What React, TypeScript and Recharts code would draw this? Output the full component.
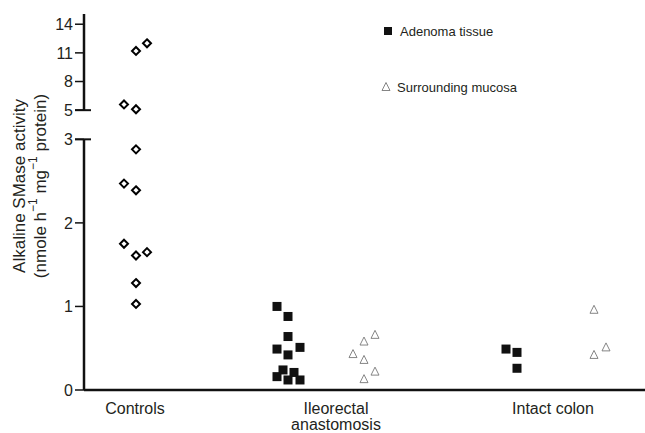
import React from 'react';
import { ScatterChart, Scatter, XAxis, YAxis, ReferenceLine, Legend } from 'recharts';

// ---- categories / ticks ----
const categoryLabels = ['Controls', 'Ileorectal\nanastomosis', 'Intact colon'];
const categoryX = [0.51, 2.52, 4.69];
const yTickValues = [0, 1, 2, 3, 5, 8, 11, 14];
const yTickLabels = ['0', '1', '2', '3', '5', '8', '11', '14'];

// ---- series values (x = horizontal slot, y = activity) ----
const controlsX = [0.63, 0.52, 0.40, 0.52, 0.52, 0.40, 0.52, 0.40, 0.52, 0.63, 0.52, 0.52];
const controlsY = [12.0, 11.2, 5.6, 5.1, 2.88, 2.47, 2.39, 1.75, 1.61, 1.65, 1.28, 1.03];

const adenomaX = [1.93, 2.04, 2.04, 1.93, 2.16, 2.04, 1.99, 1.93, 2.10, 2.04, 2.16, 4.22, 4.33, 4.33];
const adenomaY = [1.00, 0.88, 0.64, 0.49, 0.51, 0.42, 0.24, 0.16, 0.21, 0.12, 0.12, 0.49, 0.45, 0.26];

const mucosaX = [2.91, 2.80, 2.69, 2.80, 2.91, 2.80, 5.10, 5.10, 5.22];
const mucosaY = [0.66, 0.58, 0.43, 0.36, 0.22, 0.13, 0.96, 0.42, 0.51];

// broken axis: 0-3 linear, then 5-14 compressed
const toDisplay = (v: number) => {
  if (v <= 3) return v;
  if (v >= 5) return 3.349 + (v - 5) * 0.1143;
  return 3 + ((v - 3) * 0.349) / 2;
};

const build = (xs: number[], ys: number[]) => xs.map((x, i) => ({ x, y: ys[i], ty: toDisplay(ys[i]) }));
const controlsData = build(controlsX, controlsY);
const adenomaData = build(adenomaX, adenomaY);
const mucosaData = build(mucosaX, mucosaY);

const FONT = '"Liberation Sans", Arial, Helvetica, sans-serif';
const TEXT = '#231f20';

const Diamond = (p: any) => {
  const { cx, cy } = p;
  const r = 4;
  return (
    <polygon
      points={`${cx},${cy - r} ${cx + r},${cy} ${cx},${cy + r} ${cx - r},${cy}`}
      fill="#fff"
      stroke="#000"
      strokeWidth={2}
    />
  );
};
const Square = (p: any) => {
  const { cx, cy } = p;
  return <rect x={cx - 4.5} y={cy - 4.5} width={9} height={9} fill="#111" />;
};
const Triangle = (p: any) => {
  const { cx, cy } = p;
  return (
    <polygon
      points={`${cx},${cy - 4.5} ${cx + 4},${cy + 3.5} ${cx - 4},${cy + 3.5}`}
      fill="none"
      stroke="#777"
      strokeWidth={0.9}
    />
  );
};

const XTick = (p: any) => {
  const { x, y, index } = p;
  const lines = categoryLabels[index].split('\n');
  return (
    <g fontSize={16} fill={TEXT} fontFamily={FONT}>
      {lines.map((l, i) => (
        <text key={i} x={x} y={y + 24 + i * 16} textAnchor="middle">
          {l}
        </text>
      ))}
    </g>
  );
};

const YLabel = () => {
  const cy = 186;
  return (
    <g fontFamily={FONT} fill={TEXT} fontSize={17}>
      <text x={19} y={cy} transform={`rotate(-90, 19, ${cy})`} textAnchor="middle" dominantBaseline="central">
        Alkaline SMase activity
      </text>
      <text x={40} y={cy} transform={`rotate(-90, 40, ${cy})`} textAnchor="middle" dominantBaseline="central">
        (nmole h
        <tspan baselineShift="super" fontSize={12}>−1</tspan>
        {' '}mg
        <tspan baselineShift="super" fontSize={12}>−1</tspan>
        {' '}protein)
      </text>
    </g>
  );
};

const LegendContent = () => (
  <svg width={180} height={90} style={{ display: 'block' }}>
    <rect x={4} y={12} width={8} height={8} fill="#111" />
    <text x={20} y={16} fontSize={13} fill={TEXT} fontFamily={FONT} dominantBaseline="central">
      Adenoma tissue
    </text>
    <polygon points="6,67.5 10,75.5 2,75.5" fill="none" stroke="#777" strokeWidth={0.9} />
    <text x={17} y={72} fontSize={13} fill={TEXT} fontFamily={FONT} dominantBaseline="central">
      Surrounding mucosa
    </text>
  </svg>
);

export default function App() {
  const yTicks = yTickValues.map(toDisplay);
  return (
    <div style={{ position: 'absolute', left: 0, top: 0, background: '#fff' }}>
      <ScatterChart width={645} height={433} margin={{ top: 14, right: 0, bottom: 0, left: 0 }}>
        <XAxis
          type="number"
          dataKey="x"
          domain={[0, 5.61]}
          ticks={categoryX}
          interval={0}
          tick={<XTick />}
          tickLine={false}
          tickSize={0}
          tickMargin={0}
          height={43}
          axisLine={{ stroke: '#111', strokeWidth: 2.5 }}
        />
        <YAxis
          type="number"
          dataKey="ty"
          domain={[0, 4.5]}
          ticks={yTicks}
          interval={0}
          width={84}
          axisLine={false}
          tickSize={9}
          tickMargin={2}
          tickLine={{ stroke: '#111', strokeWidth: 1.5 }}
          tickFormatter={(_v: number, i: number) => yTickLabels[i]}
          tick={{ fontSize: 16, fill: TEXT, fontFamily: FONT }}
          label={{ content: <YLabel /> }}
        />
        <ReferenceLine
          segment={[{ x: 0, y: 0 }, { x: 0, y: toDisplay(3) }]}
          stroke="#111"
          strokeWidth={2.5}
          ifOverflow="visible"
        />
        <ReferenceLine
          segment={[{ x: -0.09, y: toDisplay(3) }, { x: 0.07, y: toDisplay(3) }]}
          stroke="#111"
          strokeWidth={2}
          ifOverflow="visible"
        />
        <ReferenceLine
          segment={[{ x: 0, y: toDisplay(5) }, { x: 0, y: 4.5 }]}
          stroke="#111"
          strokeWidth={2.5}
          ifOverflow="visible"
        />
        <ReferenceLine
          segment={[{ x: -0.09, y: toDisplay(5) }, { x: 0.07, y: toDisplay(5) }]}
          stroke="#111"
          strokeWidth={2}
          ifOverflow="visible"
        />
        <Legend
          layout="vertical"
          align="center"
          verticalAlign="middle"
          content={<LegendContent />}
          wrapperStyle={{ left: 380, top: 15, width: 180, height: 90 }}
        />
        <Scatter name="Controls" data={controlsData} shape={<Diamond />} isAnimationActive={false} legendType="none" />
        <Scatter name="Adenoma tissue" data={adenomaData} shape={<Square />} isAnimationActive={false} />
        <Scatter name="Surrounding mucosa" data={mucosaData} shape={<Triangle />} isAnimationActive={false} />
      </ScatterChart>
    </div>
  );
}
